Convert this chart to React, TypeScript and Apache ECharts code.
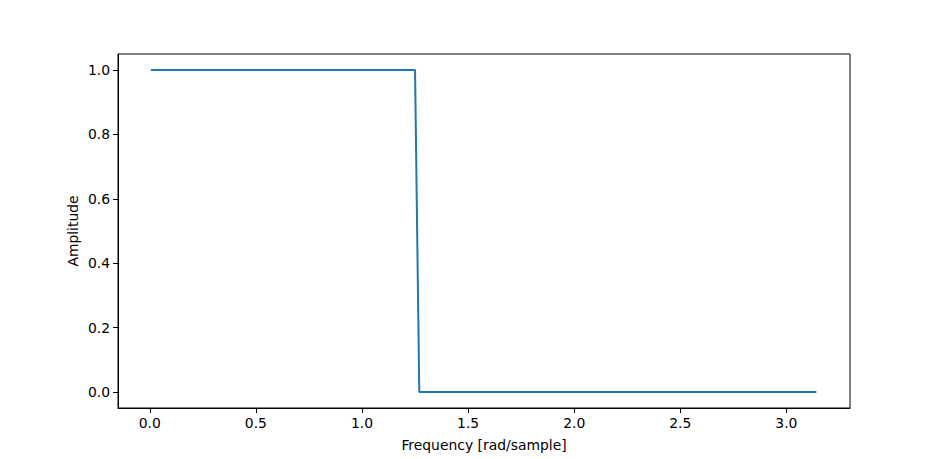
import React, { useEffect, useRef } from "react";
import * as echarts from "echarts";

const freqX: number[] = [0.005, 1.25, 1.27, 3.1416];
const amplitudeY: number[] = [1, 1, 0, 0];
const xTicks: number[] = [0, 0.5, 1, 1.5, 2, 2.5, 3];
const yTicks: number[] = [0, 0.2, 0.4, 0.6, 0.8, 1.0];

export default function App() {
  const ref = useRef<HTMLDivElement>(null);
  useEffect(() => {
    if (!ref.current) return;
    const chart = echarts.init(ref.current, null, { renderer: "svg" });
    const font = "DejaVu Sans";
    const fs = 13.9;
    chart.setOption({
      animation: false,
      backgroundColor: "#ffffff",
      grid: {
        left: 118,
        right: 94,
        top: 54,
        bottom: 51,
        show: true,
        borderColor: "#000",
        borderWidth: 1,
        backgroundColor: "transparent",
        outerBoundsMode: "none",
        containLabel: false,
      },
      xAxis: {
        type: "value",
        min: -0.15,
        max: 3.3,
        name: "Frequency [rad/sample]",
        nameLocation: "middle",
        nameGap: 30,
        nameMoveOverlap: false,
        nameTextStyle: { fontFamily: font, fontSize: fs, color: "#000" },
        axisLine: { show: true, onZero: false, lineStyle: { color: "#000", width: 1 } },
        axisTick: { show: true, inside: false, length: 5, customValues: xTicks, lineStyle: { color: "#000" } },
        axisLabel: {
          customValues: xTicks,
          margin: 8,
          fontFamily: font,
          fontSize: fs,
          color: "#000",
          formatter: (v: number) => v.toFixed(1),
        },
        splitLine: { show: false },
      },
      yAxis: {
        type: "value",
        min: -0.05,
        max: 1.05,
        name: "Amplitude",
        nameLocation: "middle",
        nameGap: 38,
        nameMoveOverlap: false,
        nameRotate: 90,
        nameTextStyle: { fontFamily: font, fontSize: fs, color: "#000" },
        axisLine: { show: true, onZero: false, lineStyle: { color: "#000", width: 1 } },
        axisTick: { show: true, inside: false, length: 5, customValues: yTicks, lineStyle: { color: "#000" } },
        axisLabel: {
          customValues: yTicks,
          margin: 8,
          fontFamily: font,
          fontSize: fs,
          color: "#000",
          formatter: (v: number) => v.toFixed(1),
        },
        splitLine: { show: false },
      },
      series: [
        {
          type: "line",
          data: freqX.map((x, i) => [x, amplitudeY[i]]),
          showSymbol: false,
          lineStyle: { color: "#1f77b4", width: 2 },
        },
      ],
    });
    return () => chart.dispose();
  }, []);
  return <div ref={ref} style={{ width: 944, height: 459, position: "absolute", left: 0, top: 0 }} />;
}
